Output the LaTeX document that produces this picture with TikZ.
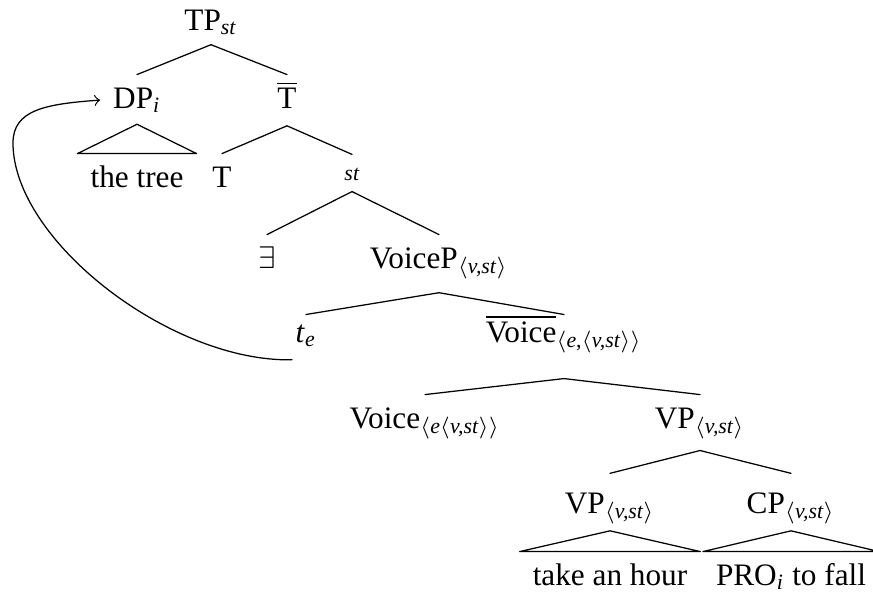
\documentclass[tikz,border=0pt]{standalone}
\usepackage{fontspec}
\setmainfont{Liberation Serif}
\newcommand{\typ}[1]{\textsubscript{\textit{#1}}}

\begin{document}
\begin{tikzpicture}[x=0.32pt, y=-0.32pt, line cap=round, line join=round,
    tn/.style={anchor=base, inner xsep=1pt, inner ysep=0pt, text height=10.5pt, text depth=5.5pt},
    leaf/.style={tn, inner xsep=4pt}]
    \useasboundingbox (0,0) rectangle (873,592);

    % nodes
    \node[tn, text depth=4.5pt] (tp) at (211,30) {TP\typ{st}};
    \node[tn, text depth=5pt] (dp) at (137,108) {DP\typ{i}};
    \node[tn] (tbar) at (287,108) {$\overline{\mbox{T}}$};
    \node[leaf] (tree) at (137,187) {the tree};
    \node[tn] (t) at (222,187) {T};
    \node[tn, font=\scriptsize, text height=8pt, text depth=3.5pt] (st) at (352,180) {\textit{st}};
    \node[tn] (ex) at (267,268) {$\exists$};
    \node[tn, text depth=7.7pt] (voicep) at (439,268) {VoiceP\textsubscript{$\langle$\textit{v,st}$\rangle$}};
    \node[tn, text height=8.6pt] (te) at (306,342) {\textit{t}\typ{e}};
    \node[tn, text height=8.6pt, text depth=11.5pt] (vbar) at (564,342) {$\overline{\mbox{Voice}}$\textsubscript{$\langle$\textit{e},$\langle$\textit{v,st}$\rangle\rangle$}};
    \node[tn] (voice) at (425,428) {Voice\textsubscript{$\langle$\textit{e}$\langle$\textit{v,st}$\rangle\rangle$}};
    \node[tn, text depth=7pt] (vp) at (700,428) {VP\textsubscript{$\langle$\textit{v,st}$\rangle$}};
    \node[tn, text height=12.5pt] (vpb) at (610,513) {VP\textsubscript{$\langle$\textit{v,st}$\rangle$}};
    \node[tn, text height=12.5pt] (cp) at (791,513) {CP\textsubscript{$\langle$\textit{v,st}$\rangle$}};
    \node[leaf] (hour) at (610,585) {take an hour};
    \node[leaf] (pro) at (791,585) {PRO\typ{i} to fall};

    % branches
    \draw (tp.south) -- (dp.north);
    \draw (tp.south) -- (tbar.north);
    \draw (tbar.south) -- (t.north);
    \draw (tbar.south) -- (st.north);
    \draw (st.south) -- (ex.north);
    \draw (st.south) -- (voicep.north);
    \draw (voicep.south) -- (te.north);
    \draw (voicep.south) -- (vbar.north);
    \draw (vbar.south) -- (voice.north);
    \draw (vbar.south) -- (vp.north);
    \draw (vp.south) -- (vpb.north);
    \draw (vp.south) -- (cp.north);

    % triangles
    \draw (dp.south) -- (tree.north west) -- (tree.north east) -- cycle;
    \draw (vpb.south) -- (hour.north west) -- (hour.north east) -- cycle;
    \draw (cp.south) -- (pro.north west) -- (pro.north east) -- cycle;

    % movement
    \draw[->, shorten >=3pt] (te.south west) .. controls (170,362) and (13,240) .. (13,143)
        .. controls (13,110) and (45,104) .. (dp.west);

\end{tikzpicture}
\end{document}
